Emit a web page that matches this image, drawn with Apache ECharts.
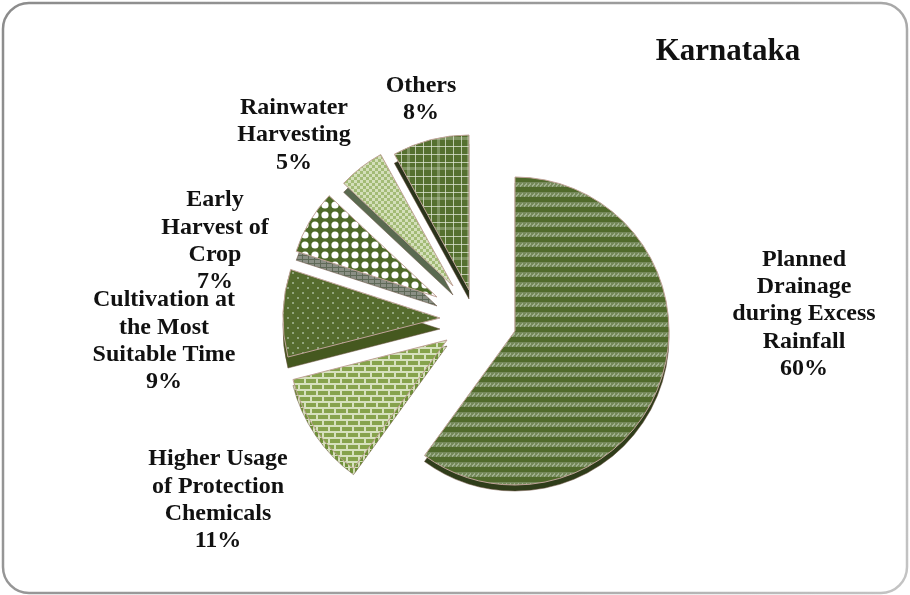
<!DOCTYPE html>
<html><head><meta charset="utf-8">
<script src="https://cdn.jsdelivr.net/npm/echarts@6/dist/echarts.min.js"></script>
<style>html,body{margin:0;padding:0;background:#fff}#c{width:910px;height:595px}</style>
</head><body><div id="c"></div>
<script>
// Data
const categories = ['Planned\nDrainage\nduring Excess\nRainfall','Higher Usage\nof Protection\nChemicals','Cultivation at\nthe Most\nSuitable Time','Early\nHarvest of\nCrop','Rainwater\nHarvesting','Others'];
const values = [60, 11, 9, 7, 5, 8];
const chartTitle = 'Karnataka';

// Layout of the exploded slices and their labels
const centers = [[515,331],[447,340],[440,318],[437,297],[453,286],[469,290]];
const radii = [154,159,157,148,150,155];
const depths = [6,6,11,9,9,9];
const labelPos = [[804,314],[218,500],[164,341],[215,241],[294,135],[421,99]];

function pat(w,h,draw){const c=document.createElement('canvas');c.width=w;c.height=h;const g=c.getContext('2d');draw(g);return {image:c,repeat:'repeat'};}
const fills = [
  pat(4,10,g=>{g.fillStyle='#506a2b';g.fillRect(0,0,4,10);g.fillStyle='#75895a';g.fillRect(0,2,4,5);g.fillStyle='#9fb08c';g.fillRect(0,5,1,2);g.fillRect(1,4,1,2);g.fillRect(2,3,1,2);}),
  pat(12,12,g=>{g.fillStyle='#d6e1bd';g.fillRect(0,0,12,12);g.fillStyle='#86a34c';g.fillRect(0,1,10,4);g.fillRect(6,7,10,4);g.fillRect(-6,7,10,4);}),
  pat(10,10,g=>{g.fillStyle='#566c2e';g.fillRect(0,0,10,10);g.fillStyle='#93a67e';g.fillRect(2,2,2,2);g.fillRect(7,7,2,2);}),
  pat(10,10,g=>{g.fillStyle='#4e6a28';g.fillRect(0,0,10,10);g.fillStyle='#fff';g.beginPath();g.arc(5,5,3.6,0,7);g.fill();}),
  pat(6,6,g=>{g.fillStyle='#a3bb76';g.fillRect(0,0,6,6);g.fillStyle='#d4dfba';g.fillRect(0,0,3,3);g.fillRect(3,3,3,3);}),
  pat(30,30,g=>{g.fillStyle='#55702f';g.fillRect(0,0,30,30);g.fillStyle='rgba(225,232,215,.75)';[3,11,25].forEach(p=>{g.fillRect(p,0,1,30);g.fillRect(0,p+1,30,1);});g.fillStyle='rgba(225,232,215,.3)';g.fillRect(17,0,3,30);g.fillRect(0,17,30,3);})
];
const sideFills = [
  '#2f3d1a',
  pat(5,6,g=>{g.fillStyle='#d3dfb8';g.fillRect(0,0,5,6);g.fillStyle='#6f9138';g.fillRect(0,0,3,5);}),
  '#45581f',
  pat(6,4,g=>{g.fillStyle='#8a8f84';g.fillRect(0,0,6,4);g.fillStyle='#5f6a58';g.fillRect(0,3,6,1);g.fillRect(2,0,1,4);}),
  '#5a6a50',
  '#2a331b'
];
const edge = '#c0a398';

function sliceSeries(i, top){
  const d = top ? 0 : depths[i];
  return {
    type:'pie', silent:true, animation:false, clockwise:true, startAngle:90,
    center:[centers[i][0], centers[i][1]+d], radius:[0, radii[i]],
    avoidLabelOverlap:false, emphasis:{disabled:true},
    labelLine:{show:false},
    labelLayout: top ? {x:labelPos[i][0], y:labelPos[i][1], align:'center', verticalAlign:'middle', hideOverlap:false} : undefined,
    data: values.map((v,j)=>({
      value:v, name:categories[j],
      itemStyle: j===i ? {color: top?fills[i]:sideFills[i], borderColor: top?edge:'#6b4f3f', borderWidth:top?1:0.5}
                       : {color:'rgba(0,0,0,0)', borderWidth:0},
      label:{show: top && j===i}
    })),
    label:{position:'outside', formatter:'{b}\n{d}%', fontFamily:'Liberation Serif', fontWeight:'bold', fontSize:24, lineHeight:27.3, color:'#111', align:'center'},
    z: top?3:2
  };
}

const series = [];
values.forEach((_,i)=>series.push(sliceSeries(i,false)));
values.forEach((_,i)=>series.push(sliceSeries(i,true)));

const chart = echarts.init(document.getElementById('c'),null,{renderer:'canvas'});
chart.setOption({
  backgroundColor:'#fff', animation:false,
  title:{text:chartTitle,left:723,top:47,textAlign:'center',textVerticalAlign:'middle',textStyle:{fontFamily:'Liberation Serif',fontWeight:'bold',fontSize:31,color:'#111'}},
  graphic:[{type:'rect',z:-1,silent:true,shape:{x:3,y:3,width:904,height:590,r:26},style:{fill:'#fff',lineWidth:2.5,
    stroke:new echarts.graphic.LinearGradient(0,0,1,1,[{offset:0,color:'#8c8c8c'},{offset:0.6,color:'#a0a0a0'},{offset:1,color:'#c4c4c4'}])}}],
  series
});
</script></body></html>
